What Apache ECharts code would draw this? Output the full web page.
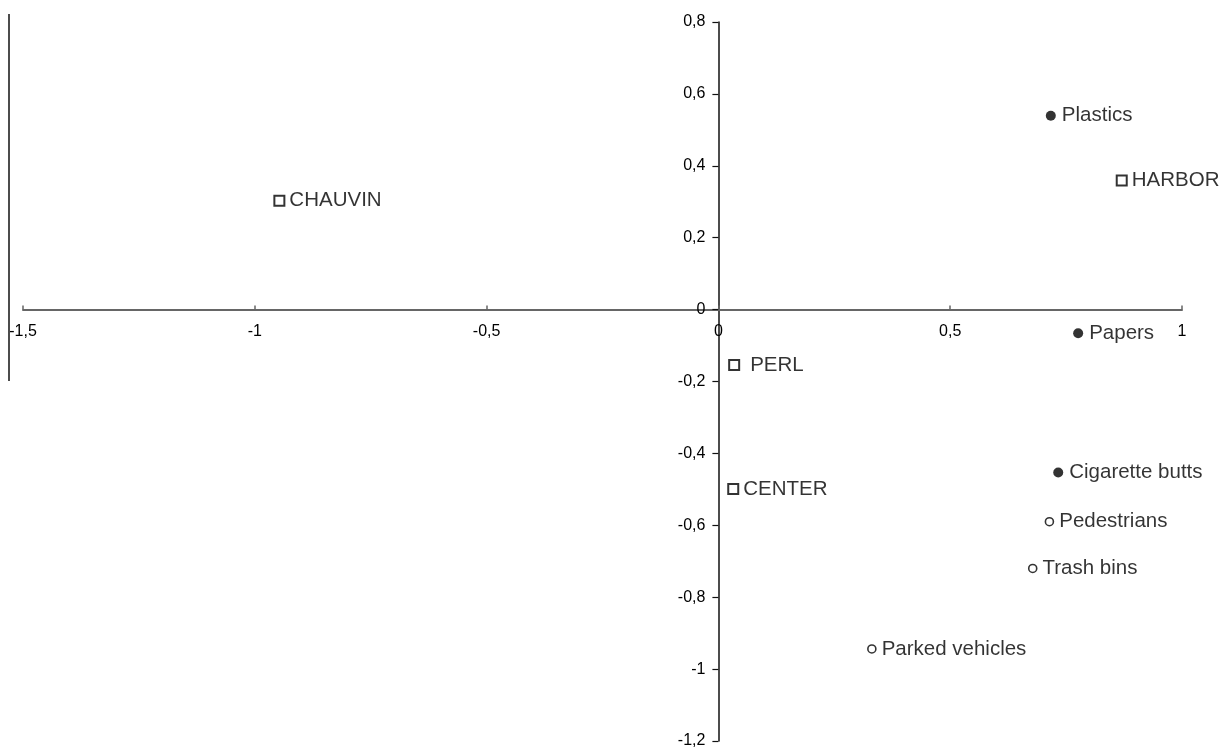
<!DOCTYPE html>
<html>
<head>
<meta charset="utf-8">
<script src="https://cdn.jsdelivr.net/npm/echarts@6/dist/echarts.min.js"></script>
<style>
html,body{margin:0;padding:0;background:#fff;}
#chart{width:1223px;height:749px;}
</style>
</head>
<body>
<div id="chart"></div>
<script>
// Sites (open squares)
var siteNames = ['CHAUVIN', 'HARBOR', 'PERL', 'CENTER'];
var siteX = [-0.947, 0.870, 0.034, 0.032];
var siteY = [0.303, 0.359, -0.154, -0.499];

// Litter types (filled circles)
var litterNames = ['Plastics', 'Papers', 'Cigarette butts'];
var litterX = [0.717, 0.776, 0.733];
var litterY = [0.539, -0.066, -0.453];

// Explanatory variables (open circles)
var varNames = ['Pedestrians', 'Trash bins', 'Parked vehicles'];
var varX = [0.714, 0.678, 0.331];
var varY = [-0.590, -0.720, -0.944];

// Axis ranges / ticks
var xMin = -1.5, xMax = 1, xStep = 0.5;
var yMin = -1.2, yMax = 0.8, yStep = 0.2;

var W = 1223, H = 749;
var G = { left: 23, right: 41, top: 22, bottom: 8 };
var gridW = W - G.left - G.right;
var gridH = H - G.top - G.bottom;
// place each axis where the other one crosses zero
var xAxisOffset = -((0 - yMin) / (yMax - yMin)) * gridH;
var yAxisOffset = -((0 - xMin) / (xMax - xMin)) * gridW;

function fmt(v) {
  var r = Math.round(v * 10) / 10;
  return String(r).replace('.', ',');
}

function build(names, xs, ys, extra) {
  return names.map(function (n, i) {
    var item = { name: n, value: [xs[i], ys[i]] };
    if (extra && extra[n]) item.label = extra[n];
    return item;
  });
}

var FONT = 'Liberation Sans, Arial, sans-serif';
var labelBase = {
  show: true,
  position: 'right',
  formatter: '{b}',
  color: '#000',
  fontSize: 20.5,
  fontFamily: FONT
};

var chart = echarts.init(document.getElementById('chart'));
chart.setOption({
  animation: false,
  backgroundColor: '#fff',
  grid: { left: G.left, right: G.right, top: G.top, bottom: G.bottom, containLabel: false, outerBoundsMode: 'none' },
  xAxis: {
    type: 'value', min: xMin, max: xMax, interval: xStep,
    position: 'bottom', offset: xAxisOffset,
    axisLine: { onZero: false, lineStyle: { color: '#666', width: 2 } },
    axisTick: { show: true, inside: true, length: 4, lineStyle: { color: '#666', width: 1.5 } },
    axisLabel: { formatter: fmt, margin: 14, color: '#000', fontSize: 16, fontFamily: FONT },
    splitLine: { show: false }
  },
  yAxis: {
    type: 'value', min: yMin, max: yMax, interval: yStep,
    position: 'left', offset: yAxisOffset,
    axisLine: { onZero: false, lineStyle: { color: '#111', width: 1.5 } },
    axisTick: { show: true, inside: false, length: 6, lineStyle: { color: '#111', width: 1.2 } },
    axisLabel: { formatter: fmt, margin: 13, color: '#000', fontSize: 16, fontFamily: FONT },
    splitLine: { show: false }
  },
  graphic: [{
    type: 'line',
    shape: { x1: 9, y1: 14, x2: 9, y2: 381 },
    style: { stroke: '#111', lineWidth: 1.5 }
  }],
  series: [
    {
      name: 'Sites', type: 'scatter', symbol: 'rect', symbolSize: 10,
      itemStyle: { color: '#fff', borderColor: '#000', borderWidth: 2 },
      label: Object.assign({}, labelBase, { distance: 4 }),
      data: build(siteNames, siteX, siteY, { 'PERL': { distance: 10 } })
    },
    {
      name: 'Litter', type: 'scatter', symbol: 'circle', symbolSize: 10,
      itemStyle: { color: '#000' },
      label: Object.assign({}, labelBase, { distance: 6 }),
      data: build(litterNames, litterX, litterY)
    },
    {
      name: 'Variables', type: 'scatter', symbol: 'circle', symbolSize: 8,
      itemStyle: { color: '#fff', borderColor: '#000', borderWidth: 1.6 },
      label: Object.assign({}, labelBase, { distance: 5 }),
      data: build(varNames, varX, varY)
    }
  ]
});
</script>
</body>
</html>
